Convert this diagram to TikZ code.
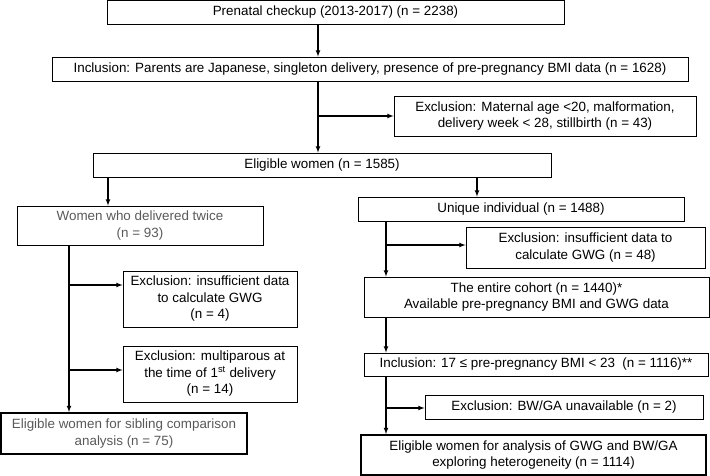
\documentclass[tikz,border=0pt]{standalone}
\usepackage{fontspec}
\setmainfont{Liberation Sans}

\begin{document}
\begin{tikzpicture}[x=1pt, y=-1pt,
    box/.style={draw, line width=0.9pt, inner sep=0pt, align=center, font=\fontsize{13.4}{16.5}\selectfont},
    endbox/.style={box, line width=2pt},
    greytext/.style={text=black!65},
    arr/.style={line width=1.1pt, -latex}]
    \useasboundingbox (0,0) rectangle (710,476);

    % main column
    \node (prenatal) [box, minimum width=457pt, minimum height=24pt] at (335.5,12) {Prenatal checkup (2013-2017) (n = 2238)};
    \node (incl) [box, minimum width=636pt, minimum height=24pt] at (370,69) {Inclusion: Parents are Japanese, singleton delivery, presence of pre-pregnancy BMI data (n = 1628)};
    \node (excl) [box, minimum width=302pt, minimum height=40pt] at (545,116) {Exclusion: Maternal age <20, malformation,\\delivery week < 28, stillbirth (n = 43)};
    \node (eligible) [box, minimum width=458pt, minimum height=24pt] at (322,165) {Eligible women (n = 1585)};

    % sibling side
    \node (twice) [box, greytext, minimum width=246pt, minimum height=39pt] at (140,225.5) {Women who delivered twice\\(n = 93)};
    \node (exclgwg) [box, minimum width=174pt, minimum height=56pt] at (210,299) {Exclusion: insufficient data\\to calculate GWG\\(n = 4)};
    \node (exclmulti) [box, minimum width=174pt, minimum height=56pt] at (210,374) {Exclusion: multiparous at\\the time of 1\textsuperscript{st} delivery\\(n = 14)};
    \node (sibling) [endbox, greytext, minimum width=246pt, minimum height=41pt] at (124,433.5) {Eligible women for sibling comparison\\analysis (n = 75)};

    % cohort side
    \node (unique) [box, minimum width=326pt, minimum height=24pt] at (521,209) {Unique individual (n = 1488)};
    \node (exclins) [box, minimum width=239pt, minimum height=41pt] at (585.5,247.5) {Exclusion: insufficient data to\\calculate GWG (n = 48)};
    \node (cohort) [box, minimum width=345pt, minimum height=40pt] at (536.5,297) {The entire cohort (n = 1440)*\\Available pre-pregnancy BMI and GWG data};
    \node (inclbmi) [box, minimum width=344pt, minimum height=23pt] at (536,364.5) {Inclusion: 17 ≤ pre-pregnancy BMI < 23 \ (n = 1116)**};
    \node (exclbw) [box, minimum width=278pt, minimum height=24pt] at (564,407) {Exclusion: BW/GA unavailable (n = 2)};
    \node (final) [endbox, minimum width=345pt, minimum height=40pt] at (533.5,455) {Eligible women for analysis of GWG and BW/GA\\exploring heterogeneity (n = 1114)};

    % spines and branch points
    \coordinate (mid) at (318,0);
    \coordinate (left) at (69,0);
    \coordinate (right) at (386,0);
    \coordinate (totwice) at (108,0);
    \coordinate (touniq) at (477,0);
    \coordinate (j1) at (318,116);
    \coordinate (j2) at (69,285);
    \coordinate (j3) at (69,370);
    \coordinate (j4) at (386,245);
    \coordinate (j5) at (386,408);

    \draw [arr] (prenatal.south -| mid) -- (incl.north -| mid);
    \draw [arr] (incl.south -| mid) -- (eligible.north -| mid);
    \draw [arr] (j1) -- (j1 -| excl.west);
    \draw [arr] (eligible.south -| totwice) -- (twice.north -| totwice);
    \draw [arr] (eligible.south -| touniq) -- (unique.north -| touniq);

    \draw [arr] (twice.south -| left) -- (sibling.north -| left);
    \draw [arr] (j2) -- (j2 -| exclgwg.west);
    \draw [arr] (j3) -- (j3 -| exclmulti.west);

    \draw [arr] (unique.south -| right) -- (cohort.north -| right);
    \draw [arr] (j4) -- (j4 -| exclins.west);
    \draw [arr] (cohort.south -| right) -- (inclbmi.north -| right);
    \draw [arr] (inclbmi.south -| right) -- (final.north -| right);
    \draw [arr] (j5) -- (j5 -| exclbw.west);
\end{tikzpicture}
\end{document}
